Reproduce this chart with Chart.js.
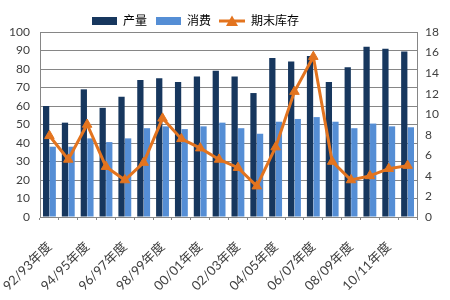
<!DOCTYPE html>
<html>
<head>
<meta charset="utf-8">
<script src="https://cdn.jsdelivr.net/npm/chart.js@4/dist/chart.umd.min.js"></script>
<style>
  html, body { margin: 0; padding: 0; background: #fff; }
  #wrap { width: 450px; height: 300px; }
</style>
</head>
<body>
<div id="wrap"><canvas id="chart" width="450" height="300"></canvas></div>
<script>
var seasons = ["92/93年度", "93/94年度", "94/95年度", "95/96年度", "96/97年度", "97/98年度", "98/99年度",
  "99/00年度", "00/01年度", "01/02年度", "02/03年度", "03/04年度", "04/05年度", "05/06年度",
  "06/07年度", "07/08年度", "08/09年度", "09/10年度", "10/11年度", "11/12年度"];
var production = [60, 51, 69, 59, 65, 74, 75, 73, 76, 79, 76, 67, 86, 84, 87, 73, 81, 92, 91, 89.5];
var consumption = [38, 38, 42.5, 40.5, 42.5, 48, 49, 47.5, 49, 51, 48, 45, 51.5, 53, 54, 51.5, 48, 50.5, 49, 48.5];
var endStock = [7.9, 5.6, 9.0, 4.9, 3.6, 5.3, 9.6, 7.6, 6.7, 5.6, 4.8, 3.0, 6.8, 12.2, 15.6, 5.4, 3.6, 4.0, 4.7, 5.0];

var darkBlue = "#17375E";
var lightBlue = "#558ED5";
var orange = "#E3741F";
var fontFamily = "Lato, 'Noto Sans CJK SC', sans-serif";

// legend swatches
function boxIcon(color) {
  var c = document.createElement("canvas");
  c.width = 25; c.height = 8;
  var g = c.getContext("2d");
  g.fillStyle = color;
  g.fillRect(0, 0, 25, 8);
  return c;
}
function lineIcon(color) {
  var c = document.createElement("canvas");
  c.width = 26; c.height = 12;
  var g = c.getContext("2d");
  g.strokeStyle = color; g.lineWidth = 3;
  g.beginPath(); g.moveTo(0, 6); g.lineTo(26, 6); g.stroke();
  g.fillStyle = color;
  g.beginPath(); g.moveTo(13, 0.5); g.lineTo(19, 11); g.lineTo(7, 11); g.closePath(); g.fill();
  return c;
}
var icons = [boxIcon(darkBlue), boxIcon(lightBlue), lineIcon(orange)];

// put the legend where the original has it
var shiftLegend = {
  id: "shiftLegend",
  afterLayout: function(chart) {
    var lg = chart.legend;
    lg.left = 83;
    lg.top += 5;
  }
};

const config = {
  type: "bar",
  data: {
    labels: seasons,
    datasets: [
      { label: "产量", data: production, backgroundColor: darkBlue, order: 1, yAxisID: "y" },
      { label: "消费", data: consumption, backgroundColor: lightBlue, order: 1, yAxisID: "y" },
      {
        type: "line", label: "期末库存", data: endStock, yAxisID: "y1", order: 0,
        borderColor: orange, backgroundColor: orange, borderWidth: 3,
        pointStyle: "triangle", pointRadius: 5.5, pointBorderWidth: 1, tension: 0
      }
    ]
  },
  options: {
    responsive: false,
    animation: false,
    layout: { padding: { top: 2, left: 0, right: 0, bottom: 0 } },
    datasets: { bar: { categoryPercentage: 0.7, barPercentage: 0.95 } },
    plugins: {
      tooltip: { enabled: false },
      legend: {
        display: true,
        position: "top",
        align: "start",
        labels: {
          usePointStyle: true,
          pointStyleWidth: 26,
          padding: 8,
          color: "#404040",
          font: { size: 12, family: fontFamily },
          sort: (a, b) => a.datasetIndex - b.datasetIndex,
          generateLabels: (chart) => {
            return chart.data.datasets.map((ds, i) => ({
              text: ds.label, datasetIndex: i, pointStyle: icons[i],
              fillStyle: ds.backgroundColor, strokeStyle: ds.backgroundColor, lineWidth: 0, hidden: false
            }));
          }
        }
      }
    },
    scales: {
      x: {
        offset: true,
        grid: { display: true, drawOnChartArea: false, drawTicks: true, tickLength: 3, color: "#868686", offset: true },
        border: { color: "#868686" },
        ticks: {
          autoSkip: false, maxRotation: 45, minRotation: 45, padding: 19,
          color: "#404040", font: { size: 13, family: fontFamily },
          callback: function(val, idx) { return idx % 2 === 0 ? this.getLabelForValue(val) : ""; }
        },
        afterFit: (s) => { s.height = 83; s.paddingLeft = 0; s.paddingRight = 0; }
      },
      y: {
        position: "left", min: 0, max: 100,
        grid: { color: "#868686", drawTicks: false },
        border: { color: "#868686" },
        ticks: { stepSize: 10, padding: 10, color: "#404040", font: { size: 12, family: fontFamily } },
        afterFit: (s) => { s.width = 40; }
      },
      y1: {
        position: "right", min: 0, max: 18,
        grid: { display: false, drawTicks: false },
        border: { display: true, color: "#868686" },
        ticks: { stepSize: 2, padding: 8, color: "#404040", font: { size: 12, family: fontFamily } },
        afterFit: (s) => { s.width = 33; }
      }
    }
  },
  plugins: [shiftLegend]
};

window.addEventListener("load", function() {
  const ctx = document.getElementById("chart");
  new Chart(ctx, config);
});
</script>
</body>
</html>
